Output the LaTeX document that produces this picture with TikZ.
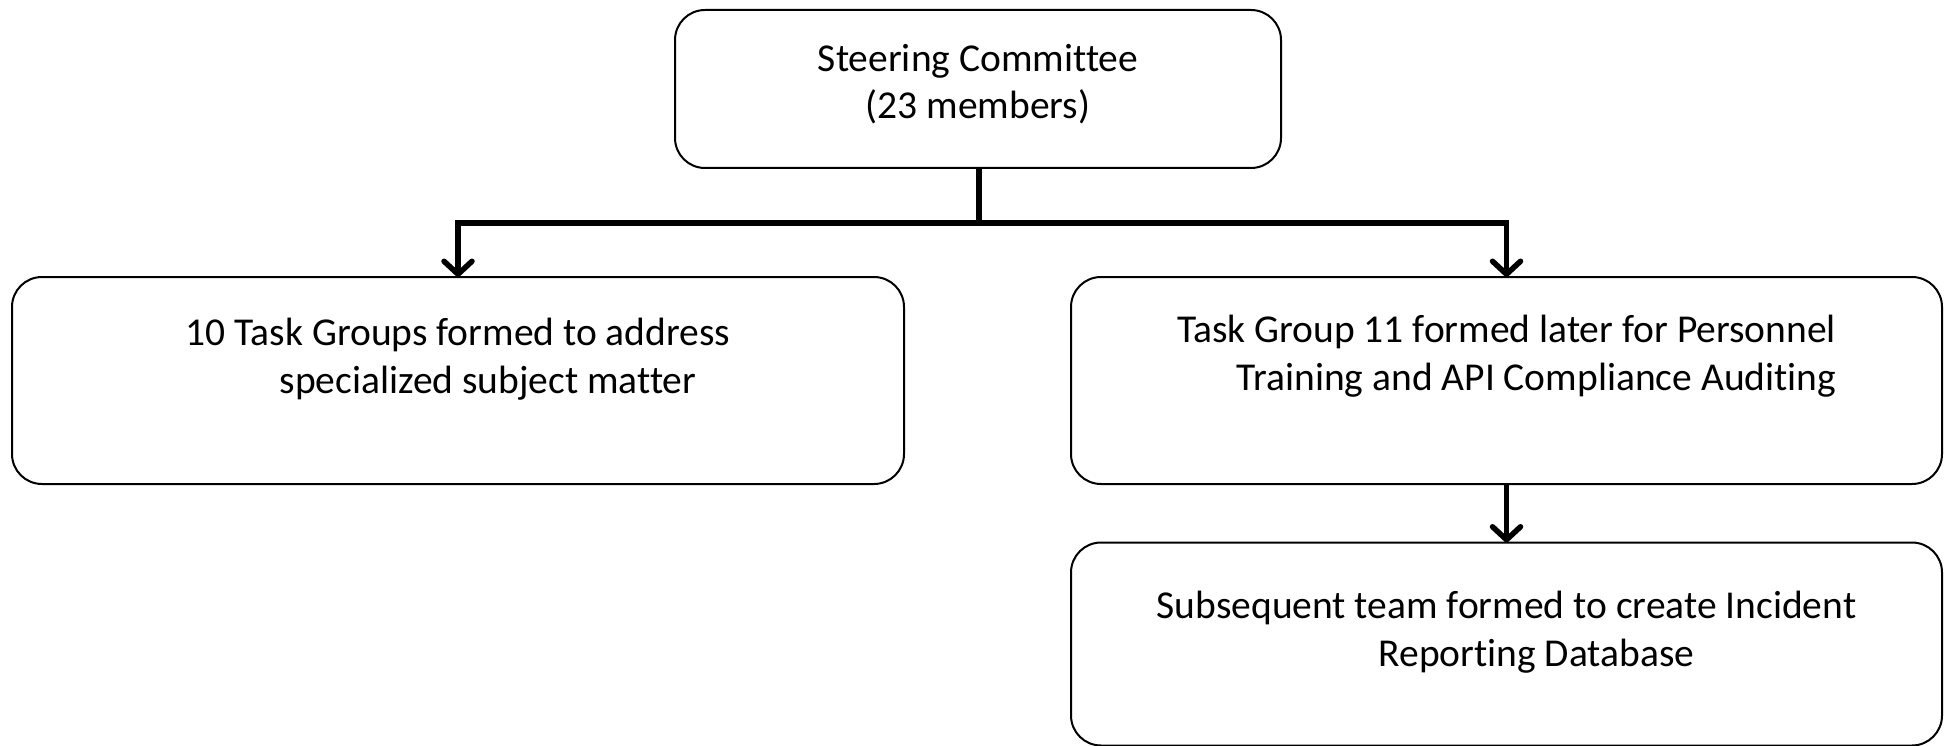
\documentclass[tikz,border=0pt]{standalone}
\usepackage{fontspec}
\setmainfont[Ligatures=NoCommon]{Carlito}
\usetikzlibrary{arrows.meta}
\begin{document}
\begin{tikzpicture}[x=1pt,y=-1pt,
  box/.style={draw=black,line width=2pt,rounded corners=30pt,inner sep=0pt,outer sep=0pt},
  txt/.style={align=center,inner sep=0pt,font=\fontsize{39.5}{47.5}\selectfont},
  conn/.style={line width=5.5pt,-{Straight Barb[length=13pt,width=28pt,round]}},
  plain/.style={line width=5.5pt}]
\useasboundingbox (0,0) rectangle (1946,746);
\node[box,minimum width=606pt,minimum height=158pt] (sc) at (978,89) {};
\node[box,minimum width=892pt,minimum height=207pt] (tg) at (458,380.5) {};
\node[box,minimum width=871pt,minimum height=207pt] (tgb) at (1506.5,380.5) {};
\node[box,minimum width=871pt,minimum height=203pt] (db) at (1506.5,644) {};
\node[txt] (sct) at (978,84) {Steering Committee\\(23 members)};
\node[txt] (tgt) at (458,359) {10 Task Groups formed to address\\\hspace*{60pt}specialized subject matter};
\node[txt] (tgbt) at (1506.5,356) {Task Group 11 formed later for Personnel\\\hspace*{60pt}Training and API Compliance Auditing};
\node[txt] (dbt) at (1506.5,632) {Subsequent team formed to create Incident\\\hspace*{60pt}Reporting Database};
\coordinate (j) at (979,223);
\draw[plain] (sc.south -| j) -- (j);
\draw[conn] (j) -| (tg.north);
\draw[conn] (j) -| (tgb.north);
\draw[conn] (tgb.south) -- (db.north);
\end{tikzpicture}
\end{document}
